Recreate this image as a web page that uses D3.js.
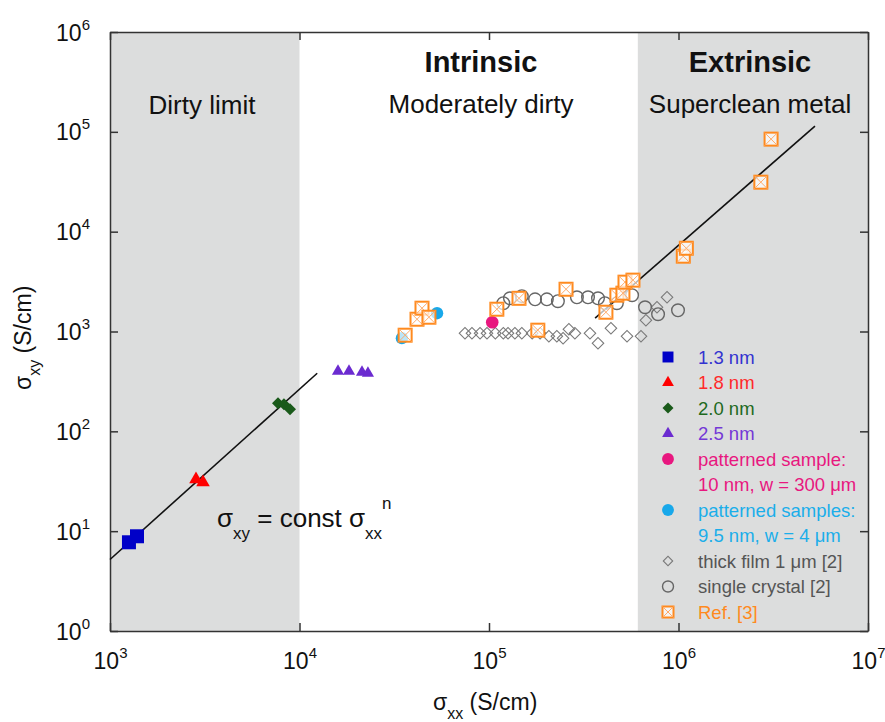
<!DOCTYPE html>
<html>
<head>
<meta charset="utf-8">
<script src="https://cdn.jsdelivr.net/npm/d3@7"></script>
<style>
  body { margin: 0; background: #fff; }
  svg { display: block; }
  text { font-family: "Liberation Sans", Arial, sans-serif; }
</style>
</head>
<body>
<div id="chart"></div>
<script>
// ---- data (S/cm) ----
var xTicks = [1e3, 1e4, 1e5, 1e6, 1e7];
var yTicks = [1e0, 1e1, 1e2, 1e3, 1e4, 1e5, 1e6];

// shaded regimes: dirty limit and superclean metal
var bands = [[1e3, 1e4], [6.1e5, 1e7]];

// power law guides sigma_xy = const sigma_xx^n
var fitLines = [
  [[1e3, 5.2], [1.24e4, 382]],
  [[3.63e5, 1360], [5.25e6, 1.14e5]]
];

var nm13 = [[1259, 7.74], [1388, 8.89]];
var nm18 = [[2843, 33.1], [3096, 30.9]];
var nm20 = [[7700, 191], [8280, 187], [8910, 166]];
var nm25 = [[15960, 400], [18250, 400], [21370, 391], [22970, 382]];
var patterned10 = [[1.04e5, 1239]];
var patterned95 = [[3.47e4, 857], [5.32e4, 1525]];

var thickFilm = [
  [7.47e4, 961], [8.13e4, 961], [8.97e4, 961], [9.76e4, 961], [1.08e5, 961],
  [1.19e5, 961], [1.26e5, 961], [1.37e5, 961], [1.49e5, 961], [1.69e5, 961],
  [1.86e5, 961], [2.07e5, 897], [2.28e5, 897], [2.46e5, 857], [2.64e5, 1055],
  [2.84e5, 961], [3.41e5, 961], [3.76e5, 764], [4.40e5, 1080], [5.35e5, 897],
  [6.34e5, 897], [6.73e5, 1298], [7.70e5, 1750], [8.70e5, 2200]
];

var singleCrystal = [
  [1.19e5, 1920], [1.29e5, 2150], [1.49e5, 2260], [1.75e5, 2100], [2.02e5, 2100],
  [2.31e5, 2010], [2.91e5, 2200], [3.33e5, 2200], [3.76e5, 2150], [4.09e5, 1920],
  [4.73e5, 1920], [5.69e5, 2310], [6.66e5, 1750], [7.80e5, 1490], [9.94e5, 1630]
];

var ref3 = [
  [3.61e4, 918], [4.17e4, 1327], [4.43e4, 1712], [4.82e4, 1390], [1.10e5, 1672],
  [1.44e5, 2150], [1.81e5, 1031], [2.55e5, 2650], [4.14e5, 1560], [4.73e5, 2310],
  [5.09e5, 2420], [5.22e5, 3120], [5.75e5, 3270], [1.06e6, 5680], [1.10e6, 6820],
  [2.72e6, 3.13e4], [3.08e6, 8.45e4]
];

var legendLabels = [
  ["1.3 nm"], ["1.8 nm"], ["2.0 nm"], ["2.5 nm"],
  ["patterned sample:", "10 nm, w = 300 \u03bcm"],
  ["patterned samples:", "9.5 nm, w = 4 \u03bcm"],
  ["thick film 1 \u03bcm [2]"], ["single crystal [2]"], ["Ref. [3]"]
];

// ---- layout ----
var W = 885, H = 722;
var plotL = 110, plotR = 868, plotT = 32, plotB = 631;

var svg = d3.select("#chart").append("svg")
  .attr("width", W).attr("height", H);

var x = d3.scaleLog().domain([1e3, 1e7]).range([plotL, plotR]);
var y = d3.scaleLog().domain([1, 1e6]).range([plotB, plotT]);

// grey regimes
svg.append("g").selectAll("rect")
  .data(bands)
  .enter().append("rect")
  .attr("x", function(d) { return x(d[0]); })
  .attr("y", plotT)
  .attr("width", function(d) { return x(d[1]) - x(d[0]); })
  .attr("height", plotB - plotT)
  .style("fill", "#dcdddd");

// region titles
var titles = [
  { t: "Dirty limit", x: 202, y: 114, bold: false },
  { t: "Intrinsic", x: 481, y: 72, bold: true },
  { t: "Moderately dirty", x: 481, y: 113, bold: false },
  { t: "Extrinsic", x: 750, y: 72, bold: true },
  { t: "Superclean metal", x: 750, y: 113, bold: false }
];
svg.append("g").selectAll("text")
  .data(titles)
  .enter().append("text")
  .attr("x", function(d) { return d.x; })
  .attr("y", function(d) { return d.y; })
  .attr("text-anchor", "middle")
  .style("font-size", function(d) { return d.bold ? "29px" : "26px"; })
  .style("font-weight", function(d) { return d.bold ? "bold" : "normal"; })
  .style("fill", "#111")
  .text(function(d) { return d.t; });

// axes, ticks pointing inwards on all four sides
function styleAxis(g) {
  g.selectAll("path.domain").style("stroke", "#333").style("stroke-width", 1.5);
  g.selectAll(".tick line").style("stroke", "#333").style("stroke-width", 1.5);
}
var axBottom = svg.append("g").attr("transform", "translate(0," + plotB + ")")
  .call(d3.axisBottom(x).tickValues(xTicks).tickSizeInner(-8).tickSizeOuter(0).tickFormat(""));
var axTop = svg.append("g").attr("transform", "translate(0," + plotT + ")")
  .call(d3.axisTop(x).tickValues(xTicks).tickSizeInner(-8).tickSizeOuter(0).tickFormat(""));
var axLeft = svg.append("g").attr("transform", "translate(" + plotL + ",0)")
  .call(d3.axisLeft(y).tickValues(yTicks).tickSizeInner(-8).tickSizeOuter(0).tickFormat(""));
var axRight = svg.append("g").attr("transform", "translate(" + plotR + ",0)")
  .call(d3.axisRight(y).tickValues(yTicks).tickSizeInner(-8).tickSizeOuter(0).tickFormat(""));
[axBottom, axTop, axLeft, axRight].forEach(styleAxis);

function powerLabel(sel, anchor, dx, dy) {
  sel.append("text")
    .attr("x", dx).attr("y", dy)
    .attr("text-anchor", anchor)
    .style("fill", "#111")
    .style("font-size", "23px")
    .each(function(d) {
      var t = d3.select(this);
      t.append("tspan").text("10");
      t.append("tspan").attr("dy", -11).style("font-size", "15px")
        .text(Math.round(Math.log10(d)));
    });
}
axBottom.selectAll(".tick").call(powerLabel, "middle", 0, 38);
axLeft.selectAll(".tick").call(powerLabel, "end", -20, 8);

// axis titles
var xt = svg.append("text").attr("x", 433).attr("y", 710)
  .style("font-size", "23px").style("fill", "#111");
xt.append("tspan").text("\u03c3");
xt.append("tspan").attr("dy", 9).style("font-size", "16px").text("xx");
xt.append("tspan").attr("dy", -9).text(" (S/cm)");

var yt = svg.append("text").attr("transform", "translate(31,390) rotate(-90)")
  .style("font-size", "23px").style("fill", "#111");
yt.append("tspan").text("\u03c3");
yt.append("tspan").attr("dy", 9).style("font-size", "16px").text("xy");
yt.append("tspan").attr("dy", -9).text(" (S/cm)");

// fit lines
var line = d3.line().x(function(d) { return x(d[0]); }).y(function(d) { return y(d[1]); });
svg.append("g").selectAll("path")
  .data(fitLines)
  .enter().append("path")
  .attr("d", line)
  .style("fill", "none").style("stroke", "#111").style("stroke-width", 1.6);

// marker helpers
function sym(type, size, rot) {
  var p = d3.symbol().type(type).size(size)();
  return function(g) {
    g.append("path").attr("d", p).attr("transform", rot ? "rotate(" + rot + ")" : null);
  };
}
var series = [
  { data: thickFilm, draw: sym(d3.symbolSquare, 66, 45), fill: "none", stroke: "#7a7a7a", sw: 1.1 },
  { data: singleCrystal, draw: sym(d3.symbolCircle, 125), fill: "none", stroke: "#666", sw: 1.4 },
  { data: nm13, draw: sym(d3.symbolSquare, 196), fill: "#0000c8", stroke: "none", sw: 0 },
  { data: nm18, draw: sym(d3.symbolTriangle, 80), fill: "#ff0000", stroke: "none", sw: 0 },
  { data: nm20, draw: sym(d3.symbolSquare, 72, 45), fill: "#1a5a1a", stroke: "none", sw: 0 },
  { data: nm25, draw: sym(d3.symbolTriangle, 64), fill: "#6b2bd0", stroke: "none", sw: 0 },
  { data: patterned10, draw: sym(d3.symbolCircle, 125), fill: "#e8177f", stroke: "none", sw: 0 },
  { data: patterned95, draw: sym(d3.symbolCircle, 120), fill: "#18a8ea", stroke: "none", sw: 0 }
];
series.forEach(function(s) {
  svg.append("g").selectAll("g")
    .data(s.data)
    .enter().append("g")
    .attr("transform", function(d) { return "translate(" + x(d[0]) + "," + y(d[1]) + ")"; })
    .each(function() { s.draw(d3.select(this)); })
    .style("fill", s.fill).style("stroke", s.stroke).style("stroke-width", s.sw);
});

// crossed boxes for Ref. [3]
function crossBox(g, h) {
  g.append("rect").attr("x", -h).attr("y", -h).attr("width", 2 * h).attr("height", 2 * h)
    .style("fill", "rgba(255,255,255,0.7)").style("stroke", "#ff8a1e").style("stroke-width", 2);
  g.append("path").attr("d", "M" + (-h) + "," + (-h) + "L" + h + "," + h + "M" + h + "," + (-h) + "L" + (-h) + "," + h)
    .style("stroke", "#ffab6a").style("stroke-width", 1);
}
svg.append("g").selectAll("g")
  .data(ref3)
  .enter().append("g")
  .attr("transform", function(d) { return "translate(" + x(d[0]) + "," + y(d[1]) + ")"; })
  .each(function() { crossBox(d3.select(this), 6.5); });

// equation
var eq = svg.append("text").attr("x", 217).attr("y", 527)
  .style("font-size", "26px").style("fill", "#111");
eq.append("tspan").text("\u03c3");
eq.append("tspan").attr("dy", 12).style("font-size", "17px").text("xy");
eq.append("tspan").attr("dy", -12).text(" = const \u03c3");
eq.append("tspan").attr("dy", 12).style("font-size", "17px").text("xx");
eq.append("tspan").attr("dy", -30).style("font-size", "17px").text("n");

// legend
var legendStyle = [
  { draw: sym(d3.symbolSquare, 120), fill: "#0000c8", stroke: "none", sw: 0, text: "#3333d0" },
  { draw: sym(d3.symbolTriangle, 60), fill: "#ff0000", stroke: "none", sw: 0, text: "#ff2a2a" },
  { draw: sym(d3.symbolSquare, 60, 45), fill: "#1a5a1a", stroke: "none", sw: 0, text: "#1e6a1e" },
  { draw: sym(d3.symbolTriangle, 60), fill: "#6b2bd0", stroke: "none", sw: 0, text: "#7438d6" },
  { draw: sym(d3.symbolCircle, 110), fill: "#e8177f", stroke: "none", sw: 0, text: "#e8177f" },
  { draw: sym(d3.symbolCircle, 110), fill: "#18a8ea", stroke: "none", sw: 0, text: "#1aaeea" },
  { draw: sym(d3.symbolSquare, 44, 45), fill: "none", stroke: "#777", sw: 1.1, text: "#555" },
  { draw: sym(d3.symbolCircle, 95), fill: "none", stroke: "#666", sw: 1.4, text: "#555" },
  { draw: function(g) { crossBox(g, 5.5); }, fill: null, stroke: null, sw: null, text: "#ff8a1e" }
];
var rowH = 25.5, ly = 357, markX = 668, textX = 698;
var row = 0;
var legend = svg.append("g");
legendLabels.forEach(function(lines, i) {
  var st = legendStyle[i];
  var cy = ly + row * rowH;
  var m = legend.append("g").attr("transform", "translate(" + markX + "," + cy + ")");
  st.draw(m);
  if (st.fill !== null) m.style("fill", st.fill).style("stroke", st.stroke).style("stroke-width", st.sw);
  lines.forEach(function(l, j) {
    legend.append("text")
      .attr("x", textX).attr("y", cy + j * rowH + 6.5)
      .style("font-size", "18.5px").style("fill", st.text)
      .text(l);
  });
  row += lines.length;
});
</script>
</body>
</html>
